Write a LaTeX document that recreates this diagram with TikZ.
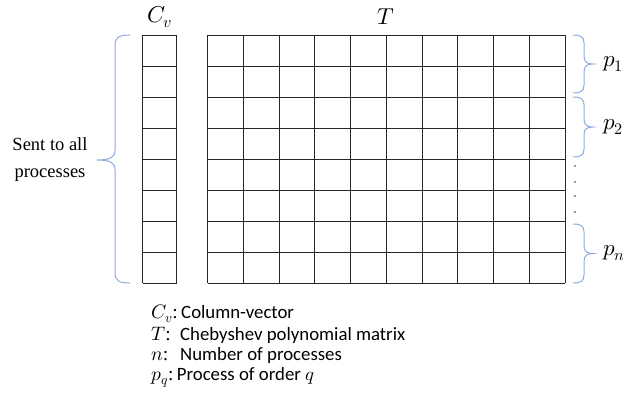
\documentclass[tikz,border=0pt]{standalone}
\usepackage{fontspec}
\usepackage{unicode-math}
\setmainfont{Liberation Serif}
\setmathfont{Latin Modern Math}
\newfontfamily\legendfont{Carlito}
\definecolor{bracecol}{RGB}{143,170,220}
\begin{document}
\begin{tikzpicture}[x=1pt,y=-1pt,
  gridline/.style={line width=0.9pt,draw=black!85},
  bracecurve/.style={line width=1pt,draw=bracecol},
  mathlabel/.style={font=\fontsize{23}{24}\selectfont,inner sep=0pt},
  sidetext/.style={font=\fontsize{18.5}{27}\selectfont,align=center,inner sep=0pt},
  legendsym/.style={font=\fontsize{19.5}{21}\selectfont,anchor=base west,inner sep=0pt},
  legendtext/.style={font=\legendfont\fontsize{18.8}{20}\selectfont,anchor=base west,inner sep=0pt},
  pdot/.style={fill=black!80,circle,inner sep=0pt,minimum size=1.6pt}]
\useasboundingbox (0,0) rectangle (629,397);

% column vector C_v
\foreach \i in {0,...,8} \draw[gridline] (142.5,{35+31*\i}) -- (176.5,{35+31*\i});
\foreach \x in {142.5,176.5} \draw[gridline] (\x,35) -- (\x,283);

% matrix T
\foreach \i in {0,...,8} \draw[gridline] (207.5,{35+31*\i}) -- (565,{35+31*\i});
\foreach \j in {0,...,10} \draw[gridline] ({207.5+35.75*\j},35) -- ({207.5+35.75*\j},283);

% top labels
\node[mathlabel] (cvlabel) at (160,17) {$C_v$};
\node[mathlabel] (tlabel) at (386,17) {$T$};

% left brace
\draw[bracecurve] (130,35) .. controls (119,35) and (115,37) .. (115,46) -- (115,150)
  .. controls (115,157) and (111,160) .. (97,160)
  .. controls (111,160) and (115,163) .. (115,170) -- (115,272)
  .. controls (115,281) and (119,283) .. (130,283);
\node[sidetext] (sent) at (50,160) {Sent to all\\processes};

% right braces
\foreach \a/\b/\n in {35/93/p1,97/157/p2,224/283/pn}{
  \draw[bracecurve] (573,\a) .. controls (581,\a) and (584,{\a+2}) .. (584,{\a+8})
    -- (584,{(\a+\b)/2-8}) .. controls (584,{(\a+\b)/2-2}) and (587,{(\a+\b)/2}) .. (593,{(\a+\b)/2})
    .. controls (587,{(\a+\b)/2}) and (584,{(\a+\b)/2+2}) .. (584,{(\a+\b)/2+8})
    -- (584,{\b-8}) .. controls (584,{\b-2}) and (581,\b) .. (573,\b);
}
\node[mathlabel,anchor=west] (p1) at (603,64) {$p_1$};
\node[mathlabel,anchor=west] (p2) at (603,127) {$p_2$};
\node[mathlabel,anchor=west] (pn) at (603,253) {$p_n$};

% dots
\foreach \y/\k in {166/a,182/b,196/c,212/d} \node[pdot] (dot\k) at (575,\y) {};

% legend
\node[legendsym] (l1s) at (151,318) {$C_v$:};
\node[legendtext] (l1t) at ([xshift=3pt]l1s.base east) {Column-vector};
\node[legendsym] (l2s) at (151,340) {$T$:};
\node[legendtext] (l2t) at (180,340) {Chebyshev polynomial matrix};
\node[legendsym] (l3s) at (151,360) {$n$:};
\node[legendtext] (l3t) at (180,360) {Number of processes};
\node[legendsym] (l4s) at (151,380) {$p_q$:};
\node[legendtext] (l4t) at ([xshift=3pt]l4s.base east) {Process of order $q$};
\end{tikzpicture}
\end{document}
